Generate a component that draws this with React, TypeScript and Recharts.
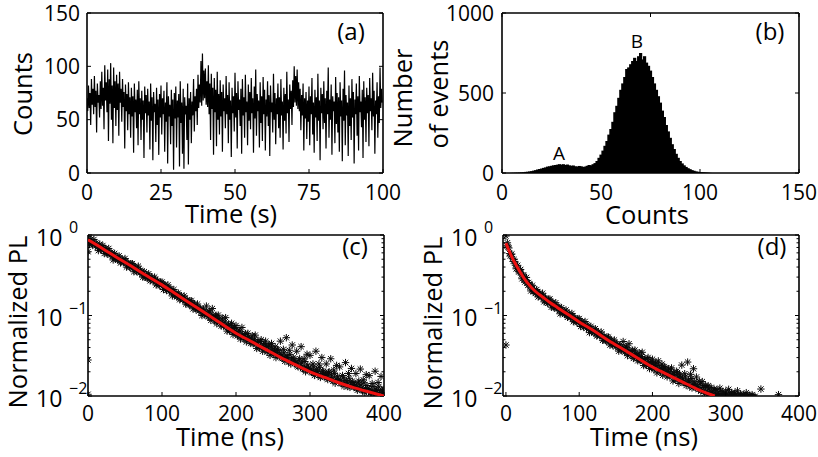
import React from "react";
import { Bar, BarChart, ComposedChart, Line, LineChart, Scatter, XAxis, YAxis } from "recharts";

const FONT = "'Open Sans', 'Noto Sans', sans-serif";
const W = 818;
const H = 457;
const TICK = 4;

// (a) intensity trace, one value per 0.25 s bin
const traceBin = 0.25;
const traceCounts = [
  70, 58, 82, 61, 75, 45, 88, 64, 79, 55, 91, 62, 77, 38, 84, 66, 73, 52, 86, 60,
  95, 63, 80, 41, 101, 68, 85, 57, 97, 30, 88, 65, 103, 50, 82, 28, 99, 61, 86, 44,
  92, 59, 84, 35, 95, 66, 79, 48, 88, 62, 76, 23, 83, 58, 74, 40, 85, 55, 71, 33,
  80, 53, 72, 19, 84, 57, 69, 42, 78, 26, 86, 55, 70, 31, 77, 50, 68, 14, 81, 56,
  73, 38, 79, 54, 67, 22, 84, 49, 71, 12, 76, 57, 65, 29, 80, 45, 69, 17, 74, 52,
  82, 36, 70, 55, 77, 20, 66, 48, 85, 9, 72, 53, 64, 27, 78, 44, 69, 3, 75, 51,
  81, 24, 68, 52, 74, 6, 86, 47, 66, 18, 79, 4, 71, 55, 63, 31, 84, 8, 70, 50,
  76, 28, 67, 54, 88, 39, 72, 58, 79, 45, 92, 61, 83, 66, 105, 63, 112, 68, 96, 70,
  98, 64, 86, 62, 101, 55, 84, 31, 93, 60, 80, 17, 89, 57, 78, 25, 95, 50, 74, 36,
  87, 53, 76, 20, 83, 58, 70, 42, 91, 55, 73, 28, 85, 50, 68, 15, 80, 56, 72, 39,
  94, 52, 75, 23, 86, 59, 69, 44, 79, 18, 88, 54, 71, 33, 92, 57, 67, 26, 83, 49,
  76, 41, 89, 56, 70, 19, 81, 51, 97, 35, 74, 58, 68, 24, 85, 47, 72, 30, 90, 55,
  78, 21, 69, 53, 86, 44, 73, 16, 82, 57, 66, 38, 93, 50, 75, 27, 70, 55, 84, 42,
  71, 33, 88, 54, 67, 22, 80, 49, 74, 37, 95, 56, 69, 29, 83, 60, 77, 45, 87, 62,
  100, 66, 91, 63, 97, 60, 85, 58, 79, 40, 73, 54, 84, 21, 70, 51, 76, 32, 68, 48,
  81, 26, 72, 55, 89, 36, 66, 19, 78, 52, 71, 30, 93, 49, 68, 12, 80, 56, 74, 41,
  86, 47, 70, 23, 77, 55, 99, 33, 69, 50, 83, 17, 72, 58, 67, 28, 90, 46, 75, 38,
  71, 20, 85, 53, 68, 11, 79, 49, 96, 26, 73, 54, 66, 16, 82, 44, 70, 31, 88, 52,
  76, 9, 69, 55, 84, 35, 72, 21, 91, 57, 67, 43, 78, 14, 86, 50, 71, 29, 80, 56,
  73, 25, 89, 58, 70, 40, 94, 53, 77, 18, 68, 55, 85, 33, 72, 47, 99, 61, 79, 66,
];
const timeTicks = [0, 25, 50, 75, 100];
const countTicks = [0, 50, 100, 150];

// (b) histogram, 1-count bins starting at 5
const histFirstBin = 5;
const histEvents = [
  1, 1, 2, 2, 3, 4, 5, 7, 8, 10, 12, 15, 18, 22, 25, 28, 32, 35, 40, 42,
  45, 48, 50, 52, 55, 52, 55, 50, 53, 48, 45, 47, 42, 40, 44, 42, 38, 40, 45, 50,
  48, 55, 62, 75, 95, 115, 140, 170, 200, 240, 275, 320, 380, 420, 470, 520, 560, 600, 650, 660,
  680, 700, 720, 700, 730, 750, 710, 730, 690, 670, 640, 600, 560, 520, 480, 440, 390, 350, 300, 260,
  220, 180, 150, 120, 95, 75, 60, 48, 38, 30, 24, 18, 14, 10, 8, 6, 5, 4, 3, 2, 1,
];
const histXTicks = [0, 50, 100, 150];
const histYTicks = [0, 500, 1000];

// (c) and (d) decays: channels every 1 ns, kept as even (0,2,4..) and odd (1,3,5..) channels
const decayC = [
  0.96, 0.76, 0.88, 0.75, 0.88, 0.73, 0.77, 0.64, 0.77, 0.67,
  0.74, 0.59, 0.68, 0.58, 0.68, 0.56, 0.59, 0.49, 0.59, 0.51,
  0.49, 0.55, 0.45, 0.5, 0.46, 0.51, 0.4, 0.45, 0.4, 0.44,
  0.44, 0.35, 0.4, 0.35, 0.41, 0.34, 0.35, 0.3, 0.35, 0.3,
  0.29, 0.33, 0.27, 0.3, 0.27, 0.3, 0.24, 0.27, 0.24, 0.26,
  0.26, 0.21, 0.24, 0.205, 0.24, 0.2, 0.21, 0.175, 0.21, 0.18,
  0.17, 0.19, 0.157, 0.176, 0.158, 0.175, 0.139, 0.156, 0.139, 0.152,
  0.152, 0.121, 0.139, 0.118, 0.139, 0.114, 0.121, 0.1, 0.12, 0.104,
  0.131, 0.097, 0.114, 0.087, 0.122, 0.091, 0.098, 0.079, 0.101, 0.086,
  0.074, 0.093, 0.075, 0.094, 0.064, 0.078, 0.065, 0.08, 0.058, 0.071,
  0.075, 0.056, 0.066, 0.051, 0.071, 0.054, 0.058, 0.047, 0.06, 0.051,
  0.045, 0.056, 0.046, 0.057, 0.039, 0.048, 0.04, 0.05, 0.036, 0.045,
  0.048, 0.035, 0.042, 0.032, 0.045, 0.034, 0.036, 0.03, 0.038, 0.032,
  0.048, 0.03, 0.038, 0.027, 0.053, 0.03, 0.037, 0.025, 0.043, 0.029,
  0.026, 0.036, 0.023, 0.029, 0.041, 0.022, 0.029, 0.02, 0.033, 0.022,
  0.032, 0.02, 0.025, 0.018, 0.036, 0.02, 0.025, 0.017, 0.03, 0.02,
  0.018, 0.025, 0.016, 0.02, 0.029, 0.016, 0.021, 0.0144, 0.024, 0.016,
  0.023, 0.0143, 0.018, 0.0132, 0.026, 0.0149, 0.019, 0.0128, 0.022, 0.0147,
  0.0132, 0.019, 0.0118, 0.0153, 0.0216, 0.0119, 0.0159, 0.011, 0.0184, 0.0124,
  0.0179, 0.0111, 0.0143, 0.0103, 0.0203, 0.0117, 0.0147, 0.0101, 0.0175, 0.0116,
  0.012,
];
const decayCOdd = [
  0.834, 0.872, 0.776, 0.813, 0.769, 0.795, 0.708, 0.727, 0.66, 0.705,
  0.647, 0.675, 0.6, 0.627, 0.593, 0.612, 0.545, 0.559, 0.506, 0.541,
  0.497, 0.52, 0.463, 0.485, 0.459, 0.475, 0.423, 0.435, 0.395, 0.421,
  0.386, 0.402, 0.358, 0.374, 0.354, 0.365, 0.325, 0.333, 0.302, 0.322,
  0.296, 0.309, 0.276, 0.288, 0.272, 0.281, 0.252, 0.258, 0.234, 0.25,
  0.229, 0.239, 0.213, 0.222, 0.21, 0.216, 0.192, 0.197, 0.178, 0.19,
  0.174, 0.181, 0.162, 0.168, 0.158, 0.164, 0.146, 0.149, 0.135, 0.144,
  0.132, 0.137, 0.123, 0.128, 0.121, 0.124, 0.11, 0.113, 0.102, 0.109,
  0.108, 0.097, 0.11, 0.095, 0.1, 0.0855, 0.1007, 0.0869, 0.0911, 0.0789,
  0.0822, 0.0739, 0.083, 0.0721, 0.0757, 0.0648, 0.0762, 0.0658, 0.0691, 0.0599,
  0.0626, 0.0565, 0.0636, 0.0555, 0.0585, 0.0504, 0.0596, 0.0516, 0.0543, 0.0474,
  0.0497, 0.0448, 0.0506, 0.0441, 0.0465, 0.04, 0.0474, 0.041, 0.0432, 0.0376,
  0.0413, 0.0367, 0.0431, 0.0369, 0.0394, 0.0328, 0.0409, 0.0346, 0.0368, 0.0311,
  0.0329, 0.0293, 0.0344, 0.0295, 0.0316, 0.0264, 0.0329, 0.0279, 0.0297, 0.0252,
  0.0266, 0.0237, 0.0278, 0.0238, 0.0256, 0.0214, 0.0268, 0.0227, 0.0243, 0.0206,
  0.0218, 0.0195, 0.023, 0.0198, 0.0214, 0.0179, 0.0225, 0.0191, 0.0205, 0.0174,
  0.0185, 0.0166, 0.0196, 0.0169, 0.0182, 0.0153, 0.0191, 0.0163, 0.0176, 0.0149,
  0.0158, 0.0142, 0.0168, 0.0145, 0.0156, 0.0131, 0.0166, 0.0141, 0.0152, 0.013,
  0.0138, 0.0124, 0.0146, 0.0127, 0.0137, 0.0116, 0.0146, 0.0124, 0.0135, 0.0114,
  0.0122, 0.011, 0.0131, 0.0113, 0.0122, 0.0103, 0.013, 0.0111, 0.012, 0.0103,
];
const decayCExtraT = [0, 0, 0];
const decayCExtraV = [0.62, 0.028, 0.0105];
const fitCTimes = [0, 20, 40, 60, 80, 100, 120, 140, 160, 180, 200, 220, 240, 260, 280, 300, 320, 340, 360, 380, 400];
const fitC = [
  0.871, 0.676, 0.519, 0.403, 0.309, 0.24, 0.182, 0.138, 0.105, 0.0794, 0.0603,
  0.0479, 0.038, 0.0302, 0.0245, 0.02, 0.017, 0.0145, 0.0126, 0.0112, 0.01,
];

const decayD = [
  0.97, 0.8, 0.69, 0.55, 0.58, 0.47, 0.47, 0.38, 0.42, 0.35,
  0.373, 0.286, 0.316, 0.261, 0.297, 0.238, 0.247, 0.202, 0.237, 0.201,
  0.188, 0.21, 0.17, 0.19, 0.17, 0.189, 0.148, 0.165, 0.146, 0.159,
  0.16, 0.127, 0.145, 0.124, 0.144, 0.12, 0.126, 0.105, 0.125, 0.108,
  0.103, 0.117, 0.095, 0.106, 0.095, 0.106, 0.084, 0.094, 0.084, 0.091,
  0.0915, 0.073, 0.0838, 0.0717, 0.0842, 0.0696, 0.0736, 0.0613, 0.0733, 0.0636,
  0.0607, 0.0685, 0.0556, 0.0624, 0.0561, 0.0624, 0.0492, 0.0553, 0.0492, 0.0539,
  0.0539, 0.043, 0.0494, 0.0422, 0.0496, 0.041, 0.0434, 0.0361, 0.0432, 0.0374,
  0.0475, 0.0352, 0.0415, 0.0317, 0.0446, 0.0335, 0.0359, 0.0293, 0.0372, 0.0317,
  0.0274, 0.0344, 0.028, 0.0349, 0.0239, 0.0291, 0.0243, 0.0301, 0.0219, 0.027,
  0.0286, 0.0213, 0.0252, 0.0194, 0.0273, 0.0206, 0.0221, 0.0181, 0.0232, 0.0198,
  0.0173, 0.0218, 0.0178, 0.0223, 0.0154, 0.0187, 0.0157, 0.0195, 0.0143, 0.0177,
  0.0242, 0.0148, 0.0189, 0.0135, 0.0264, 0.015, 0.0186, 0.0126, 0.0218, 0.0144,
  0.0172, 0.0126, 0.0152, 0.0115, 0.0151, 0.0116, 0.0135, 0.0107, 0.0134, 0.0107,
  0.0128, 0.0104, 0.0122, 0.0101, 0.0119, 0.0102, 0.0125, 0.0099, 0.0113, 0.0101,
  0.0115, 0.0099, 0.0121, 0.0098, 0.011, 0.0103, 0.0108, 0.0097, 0.0116, 0.0098,
  0.0106, 0.0096, 0.0104, 0.0099, 0.011, 0.0096, 0.0102, 0.0097, 0.0104, 0.0096,
  0.0099,
];
const decayDOdd = [
  0.732, 0.71, 0.587, 0.573, 0.508, 0.496, 0.421, 0.412, 0.356, 0.363,
  0.318, 0.32, 0.275, 0.278, 0.255, 0.257, 0.225, 0.226, 0.201, 0.21,
  0.19, 0.198, 0.175, 0.182, 0.17, 0.175, 0.155, 0.158, 0.142, 0.151,
  0.139, 0.145, 0.128, 0.134, 0.126, 0.13, 0.115, 0.118, 0.107, 0.114,
  0.105, 0.109, 0.0969, 0.102, 0.0959, 0.0989, 0.0879, 0.09, 0.0815, 0.0868,
  0.0796, 0.0833, 0.0742, 0.0776, 0.0735, 0.076, 0.0678, 0.0695, 0.063, 0.0674,
  0.0618, 0.0644, 0.0572, 0.0598, 0.0564, 0.0582, 0.0517, 0.053, 0.048, 0.0512,
  0.0469, 0.0491, 0.0437, 0.0457, 0.0433, 0.0447, 0.0398, 0.0409, 0.0371, 0.0397,
  0.0394, 0.0355, 0.0399, 0.0347, 0.0366, 0.0314, 0.037, 0.032, 0.0337, 0.0292,
  0.0306, 0.0275, 0.0309, 0.027, 0.0284, 0.0244, 0.0288, 0.0249, 0.0262, 0.0227,
  0.0249, 0.0221, 0.026, 0.0223, 0.0239, 0.0199, 0.0249, 0.0211, 0.0225, 0.0191,
  0.0202, 0.018, 0.0211, 0.0182, 0.0194, 0.0163, 0.0203, 0.0172, 0.0183, 0.0155,
  0.0164, 0.0146, 0.0172, 0.0147, 0.0158, 0.0131, 0.0165, 0.0139, 0.0149, 0.0126,
  0.0133, 0.012, 0.014, 0.0118, 0.0128, 0.0108, 0.0132, 0.0112, 0.0122, 0.0104,
  0.0112, 0.0101, 0.0118, 0.0099, 0.0108, 0.0098, 0.0115, 0.01, 0.0106, 0.0097,
  0.0105, 0.0097, 0.0109, 0.0096, 0.0103, 0.0097, 0.0108, 0.0096, 0.0101, 0.0096,
  0.0103, 0.0096, 0.0101, 0.0097, 0.0099, 0.0096, 0.0102, 0.0096, 0.0098, 0.0096,
];
const decayDExtraT = [0, 348, 372];
const decayDExtraV = [0.043, 0.0122, 0.0104];
const fitDTimes = [0, 5, 10, 15, 20, 25, 30, 40, 50, 60, 70, 80, 90, 100, 120, 140, 160, 180, 200, 220, 240, 260, 285];
const fitD = [
  0.794, 0.617, 0.49, 0.407, 0.339, 0.288, 0.251, 0.2, 0.17, 0.145, 0.126, 0.11,
  0.0955, 0.0832, 0.0646, 0.049, 0.038, 0.0295, 0.0229, 0.0186, 0.0151, 0.0123, 0.01,
];
const nsTicks = [0, 100, 200, 300, 400];
const logTicks = [
  0.01, 0.02, 0.03, 0.04, 0.05, 0.06, 0.07, 0.08, 0.09,
  0.1, 0.2, 0.3, 0.4, 0.5, 0.6, 0.7, 0.8, 0.9, 1,
];

type Pt = { t: number; v: number };
const traceData = traceCounts.map((c, i) => ({ t: i * traceBin, v: c }));
const histData = histEvents.map((n, i) => ({ t: histFirstBin + i, v: n }));
const channels = (even: number[], odd: number[], extraT: number[], extraV: number[]): Pt[] =>
  even
    .map((v, i) => ({ t: 2 * i, v }))
    .concat(odd.map((v, i) => ({ t: 2 * i + 1, v })))
    .concat(extraT.map((t, i) => ({ t, v: extraV[i] })));
const scatterC = channels(decayC, decayCOdd, decayCExtraT, decayCExtraV);
const scatterD = channels(decayD, decayDOdd, decayDExtraT, decayDExtraV);
const fitCData = fitCTimes.map((t, i) => ({ t, v: fitC[i] }));
const fitDData = fitDTimes.map((t, i) => ({ t, v: fitD[i] }));

// plot boxes in page pixels
const boxA = { x0: 87, x1: 383, y0: 13, y1: 173 };
const boxB = { x0: 502, x1: 799, y0: 13, y1: 173 };
const boxC = { x0: 88, x1: 384, y0: 235, y1: 396 };
const boxD = { x0: 503, x1: 799, y0: 235, y1: 396 };

const marginsFor = (b: { x0: number; x1: number; y0: number; y1: number }) => ({
  left: b.x0 - 40,
  right: W - b.x1 - 2,
  top: b.y0 - 2,
  bottom: H - b.y1 - 30,
});

const axisLine = { stroke: "#000", strokeWidth: 1.6 };

const isDecade = (v: number) => Math.abs(Math.log10(v) - Math.round(Math.log10(v))) < 1e-6;

const bottomTick = (dy: number) => (p: any) => (
  <g>
    <line x1={p.x} y1={p.y} x2={p.x} y2={p.y - TICK} stroke="#000" />
    <text x={p.x} y={p.y + dy} textAnchor="middle" fontFamily={FONT} fontSize={21} fill="#000">
      {p.payload.value}
    </text>
  </g>
);

const topTick = (p: any) => <line x1={p.x} y1={p.y} x2={p.x} y2={p.y + TICK} stroke="#000" />;

const leftTick = (gap: number) => (p: any) => (
  <g>
    <line x1={p.x} y1={p.y} x2={p.x + TICK} y2={p.y} stroke="#000" />
    <text x={p.x - gap} y={p.y + 7.5} textAnchor="end" fontFamily={FONT} fontSize={21} fill="#000">
      {p.payload.value}
    </text>
  </g>
);

const rightTick = (p: any) => <line x1={p.x} y1={p.y} x2={p.x - TICK} y2={p.y} stroke="#000" />;

const logLeftTick = (p: any) => {
  const v = p.payload.value;
  if (!isDecade(v)) return <line x1={p.x} y1={p.y} x2={p.x + 2.5} y2={p.y} stroke="#000" />;
  const e = Math.round(Math.log10(v));
  return (
    <g>
      <line x1={p.x} y1={p.y} x2={p.x + TICK} y2={p.y} stroke="#000" />
      <text x={p.x - 52} y={p.y + 10.5} fontFamily={FONT} fontSize={23} fill="#000">
        10
      </text>
      <text x={p.x - 19} y={p.y - 2} fontFamily={FONT} fontSize={16} fill="#000">
        {e < 0 ? "\u2212" + -e : String(e)}
      </text>
    </g>
  );
};

const logRightTick = (p: any) => {
  const len = isDecade(p.payload.value) ? TICK : 2.5;
  return <line x1={p.x} y1={p.y} x2={p.x - len} y2={p.y} stroke="#000" />;
};

const Asterisk = (p: any) => {
  const { cx, cy } = p;
  if (cx == null || cy == null) return <g />;
  const r = 3.7;
  const d = 2.7;
  return (
    <path
      d={`M${cx - r},${cy}H${cx + r}M${cx},${cy - r}V${cy + r}M${cx - d},${cy - d}L${cx + d},${cy + d}M${cx - d},${cy + d}L${cx + d},${cy - d}`}
      stroke="#0a0a0a"
      strokeWidth={1}
      fill="none"
    />
  );
};

// histogram bars drawn slightly wider than the bin so neighbours touch
const HistBar = (p: any) => (
  <rect x={p.x - 0.6} y={p.y} width={p.width + 1.2} height={Math.max(0, p.height)} fill="#000" />
);

const layer: React.CSSProperties = { position: "absolute", left: 0, top: 0 };

function DecayPanel({
  box,
  xDomain,
  points,
  fit,
}: {
  box: typeof boxC;
  xDomain: [number, number];
  points: Pt[];
  fit: Pt[];
}) {
  return (
    <div style={layer}>
      <ComposedChart width={W} height={H} margin={marginsFor(box)}>
        <XAxis dataKey="t" type="number" domain={xDomain} ticks={nsTicks} allowDataOverflow interval={0}
          height={30} tickSize={0} tickMargin={0} tickLine={false} axisLine={axisLine} tick={bottomTick(25)} />
        <XAxis xAxisId="top" orientation="top" type="number" domain={xDomain} ticks={nsTicks} allowDataOverflow interval={0}
          height={2} tickSize={0} tickMargin={0} tickLine={false} axisLine={axisLine} tick={topTick} />
        <YAxis dataKey="v" type="number" scale="log" domain={[0.01, 1]} ticks={logTicks} allowDataOverflow interval={0}
          width={40} tickSize={0} tickMargin={0} tickLine={false} axisLine={axisLine} tick={logLeftTick} />
        <YAxis yAxisId="right" orientation="right" type="number" scale="log" domain={[0.01, 1]} ticks={logTicks} allowDataOverflow interval={0}
          width={2} tickSize={0} tickMargin={0} tickLine={false} axisLine={axisLine} tick={logRightTick} />
        <Scatter data={points} dataKey="v" shape={Asterisk} isAnimationActive={false} />
        <Line data={fit} dataKey="v" type="monotone" stroke="#ee1111" strokeWidth={3} dot={false}
          isAnimationActive={false} {...({ zIndex: 2000 } as any)} />
      </ComposedChart>
    </div>
  );
}

const labelStyle = { fontFamily: FONT, fill: "#000" };

export default function App() {
  return (
    <div style={{ position: "absolute", left: 0, top: 0, width: W, height: H, background: "#fff" }}>
      {/* (a) trace */}
      <div style={layer}>
        <LineChart width={W} height={H} margin={marginsFor(boxA)}>
          <XAxis dataKey="t" type="number" domain={[0, 100]} ticks={timeTicks} allowDataOverflow interval={0}
            height={30} tickSize={0} tickMargin={0} tickLine={false} axisLine={axisLine} tick={bottomTick(27)} />
          <XAxis xAxisId="top" orientation="top" type="number" domain={[0, 100]} ticks={timeTicks} allowDataOverflow interval={0}
            height={2} tickSize={0} tickMargin={0} tickLine={false} axisLine={axisLine} tick={topTick} />
          <YAxis dataKey="v" type="number" domain={[0, 150]} ticks={countTicks} allowDataOverflow interval={0}
            width={40} tickSize={0} tickMargin={0} tickLine={false} axisLine={axisLine} tick={leftTick(7)} />
          <YAxis yAxisId="right" orientation="right" type="number" domain={[0, 150]} ticks={countTicks} allowDataOverflow interval={0}
            width={2} tickSize={0} tickMargin={0} tickLine={false} axisLine={axisLine} tick={rightTick} />
          <Line data={traceData} dataKey="v" type="linear" stroke="#000" strokeWidth={1.2} dot={false} isAnimationActive={false} />
        </LineChart>
      </div>

      {/* (b) histogram */}
      <div style={layer}>
        <BarChart width={W} height={H} data={histData} margin={marginsFor(boxB)} barGap={0} barCategoryGap={0}>
          <XAxis dataKey="t" type="number" domain={[0, 150]} ticks={histXTicks} allowDataOverflow interval={0}
            height={30} tickSize={0} tickMargin={0} tickLine={false} axisLine={axisLine} tick={bottomTick(27)} />
          <XAxis xAxisId="top" orientation="top" type="number" domain={[0, 150]} ticks={histXTicks} allowDataOverflow interval={0}
            height={2} tickSize={0} tickMargin={0} tickLine={false} axisLine={axisLine} tick={topTick} />
          <YAxis type="number" domain={[0, 1000]} ticks={histYTicks} allowDataOverflow interval={0}
            width={40} tickSize={0} tickMargin={0} tickLine={false} axisLine={axisLine} tick={leftTick(8)} />
          <YAxis yAxisId="right" orientation="right" type="number" domain={[0, 1000]} ticks={histYTicks} allowDataOverflow interval={0}
            width={2} tickSize={0} tickMargin={0} tickLine={false} axisLine={axisLine} tick={rightTick} />
          <Bar dataKey="v" fill="#000" shape={HistBar} isAnimationActive={false} />
        </BarChart>
      </div>

      <DecayPanel box={boxC} xDomain={[0, 400]} points={scatterC} fit={fitCData} />
      <DecayPanel box={boxD} xDomain={[-4, 400]} points={scatterD} fit={fitDData} />

      {/* titles and panel letters */}
      <svg width={W} height={H} style={{ ...layer, pointerEvents: "none" }}>
        <g {...labelStyle} fontSize={25.5}>
          <text x={32} y={94} transform="rotate(-90 32 94)" textAnchor="middle">Counts</text>
          <text x={231} y={223} textAnchor="middle">Time (s)</text>
          <text x={412} y={98} transform="rotate(-90 412 98)" textAnchor="middle">Number</text>
          <text x={448} y={94} transform="rotate(-90 448 94)" textAnchor="middle">of events</text>
          <text x={647} y={224} textAnchor="middle">Counts</text>
          <text x={27} y={322} transform="rotate(-90 27 322)" textAnchor="middle">Normalized PL</text>
          <text x={230} y={446} textAnchor="middle">Time (ns)</text>
          <text x={442} y={323} transform="rotate(-90 442 323)" textAnchor="middle">Normalized PL</text>
          <text x={644} y={446} textAnchor="middle">Time (ns)</text>
        </g>
        <g {...labelStyle} fontSize={24} textAnchor="middle">
          <text x={351} y={40}>(a)</text>
          <text x={770} y={40}>(b)</text>
          <text x={355} y={255}>(c)</text>
          <text x={772} y={255}>(d)</text>
        </g>
        <g {...labelStyle} fontSize={19} textAnchor="middle">
          <text x={559} y={160}>A</text>
          <text x={637} y={48}>B</text>
        </g>
      </svg>
    </div>
  );
}
